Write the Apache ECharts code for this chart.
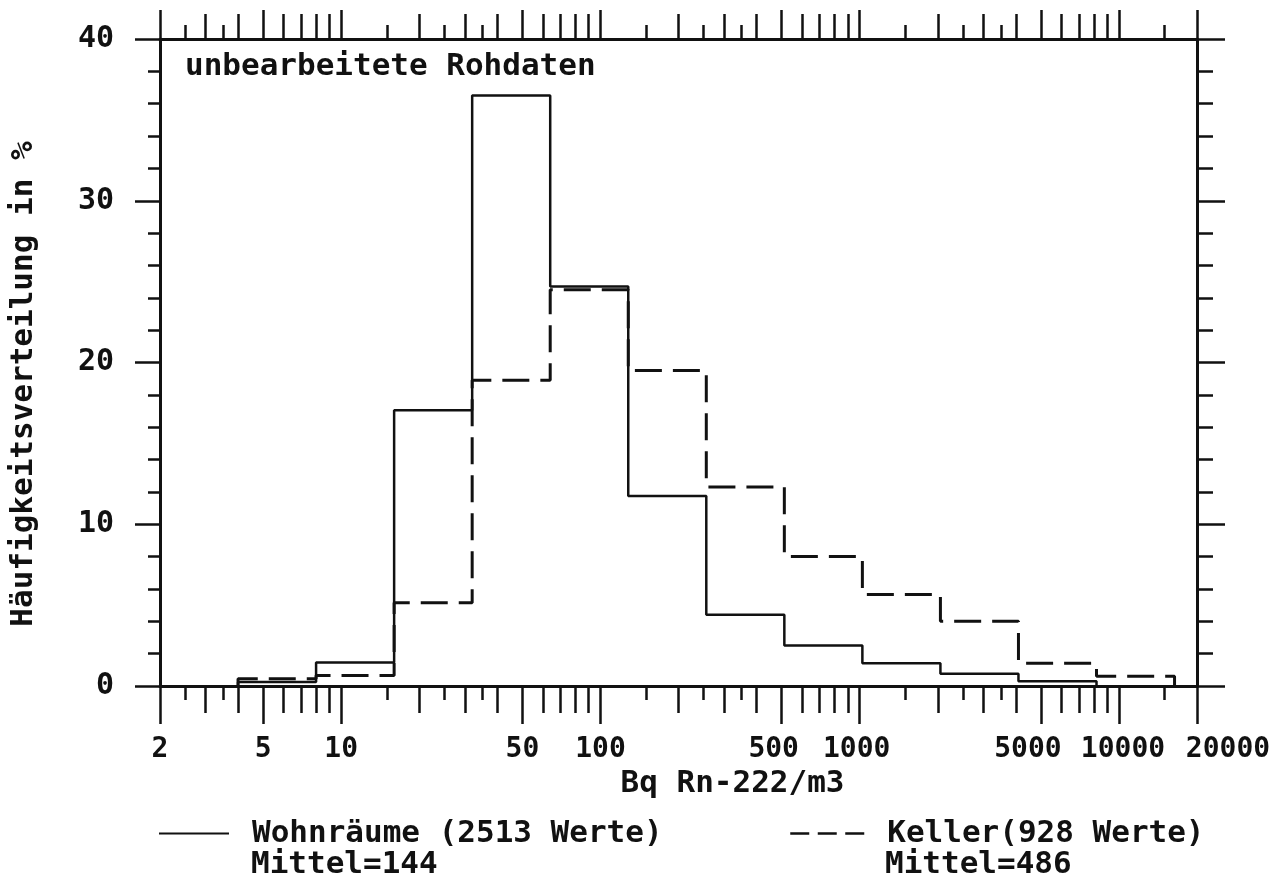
<!DOCTYPE html>
<html>
<head>
<meta charset="utf-8">
<title>Radon Häufigkeitsverteilung</title>
<script src="https://cdn.jsdelivr.net/npm/echarts@6/dist/echarts.min.js"></script>
<style>
  html, body { margin: 0; padding: 0; background: #fff; }
  #chart { width: 1284px; height: 883px; }
</style>
</head>
<body>
<div id="chart"></div>
<script>
// Klassengrenzen (Bq/m3), Klassen verdoppeln sich
const binEdges = [4, 8, 16, 32, 64, 128, 256, 512, 1024, 2048, 4096, 8192, 16384]
// Häufigkeit in % je Klasse
const wohnValues = [0.25, 1.45, 17.05, 36.5, 24.7, 11.75, 4.4, 2.5, 1.4, 0.75, 0.3]
const kellerValues = [0.45, 0.65, 5.15, 18.9, 24.5, 19.5, 12.3, 8.0, 5.65, 4.0, 1.4, 0.6]

const xLabels = [2, 5, 10, 50, 100, 500, 1000, 5000, 10000, 20000]
const longTicks = [2, 5, 10, 50, 100, 500, 1000, 5000, 10000, 20000]
const midTicks = [3, 4, 6, 7, 8, 9, 20, 30, 40, 60, 70, 80, 90, 200, 300, 400, 600, 700, 800, 900,
  2000, 3000, 4000, 6000, 7000, 8000, 9000]
const shortTicks = [2.5, 3.5, 15, 25, 35, 150, 250, 350, 1500, 2500, 3500, 15000]

const FONT = '"DejaVu Sans Mono", "Liberation Mono", monospace'

// Treppenlinie aus Klassengrenzen und Werten
const stepPoints = (edges, vals) => {
  const pts = [[edges[0], 0]]
  vals.forEach((v, i) => {
    pts.push([edges[i], v], [edges[i + 1], v])
  })
  pts.push([edges[vals.length], 0])
  return pts
}

// Beschriftungen wie im Plot leicht seitlich versetzt (px, + = rechts)
const labelShift = { 500: -8, 1000: -3, 5000: -13, 10000: 4, 20000: 31 }
const labelRich = {}
xLabels.forEach((v, i) => {
  const s = labelShift[v] || 0
  labelRich['s' + i] = {
    fontFamily: FONT, fontWeight: 'bold', fontSize: 28, color: '#111',
    padding: s >= 0 ? [0, 0, 0, 2 * s] : [0, -2 * s, 0, 0]
  }
})

// eine Log-Achse je Strichlänge (lang / mittel / kurz), unten und oben
const makeX = (position, ticks, len, withLine, withLabels) => ({
  type: 'log',
  logBase: 10,
  min: 2,
  max: 20000,
  position,
  gridIndex: 0,
  splitLine: { show: false },
  minorTick: { show: false },
  axisLine: { show: withLine, lineStyle: { color: '#111', width: 3 } },
  axisTick: { show: true, customValues: ticks, length: len, lineStyle: { color: '#111', width: 2.5 } },
  axisLabel: withLabels ? {
    show: true,
    customValues: xLabels,
    margin: 50,
    formatter: (val) => {
      const v = Math.round(val)
      const i = xLabels.indexOf(v)
      return '{s' + i + '|' + v + '}'
    },
    rich: labelRich
  } : { show: false }
})

const makeY = (position, len, minorLen, withLabels) => ({
  type: 'value',
  min: 0,
  max: 40,
  interval: 10,
  position,
  splitLine: { show: false },
  minorSplitLine: { show: false },
  axisLine: { show: true, lineStyle: { color: '#111', width: 3 } },
  axisTick: { show: true, length: len, lineStyle: { color: '#111', width: 2.5 } },
  minorTick: { show: true, splitNumber: 5, length: minorLen, lineStyle: { color: '#111', width: 2.5 } },
  axisLabel: withLabels ? {
    show: true, margin: 46, fontFamily: FONT, fontWeight: 'bold', fontSize: 30, color: '#111'
  } : { show: false }
})

const chart = echarts.init(document.getElementById('chart'))

const xBottom = makeX('bottom', longTicks, 38, true, true)
xBottom.name = 'Bq Rn-222/m3'
xBottom.nameLocation = 'middle'
xBottom.nameGap = 68
xBottom.nameTextStyle = {
  fontFamily: FONT, fontWeight: 'bold', fontSize: 31, color: '#111', padding: [0, 0, 0, 108]
}

const legendText = { fontFamily: FONT, fontWeight: 'bold', fontSize: 31, color: '#111', padding: [0, 0, 0, 18] }
const hiddenSymbol = { color: 'transparent', borderColor: 'transparent', borderWidth: 0 }

const option = {
  backgroundColor: '#fff',
  animation: false,
  title: {
    text: 'unbearbeitete Rohdaten',
    left: 180,
    top: 46,
    textStyle: { fontFamily: FONT, fontWeight: 'bold', fontSize: 31, color: '#111' }
  },
  grid: { left: 160, right: 87, top: 39, bottom: 197 },
  xAxis: [
    xBottom,
    makeX('bottom', midTicks, 27, false, false),
    makeX('bottom', shortTicks, 14, false, false),
    makeX('top', longTicks, 29, true, false),
    makeX('top', midTicks, 25, false, false),
    makeX('top', shortTicks, 14, false, false)
  ],
  yAxis: [
    makeY('left', 25, 12, true),
    makeY('right', 28, 16, false)
  ],
  legend: [
    {
      left: 158, top: 818, padding: 0,
      itemWidth: 70, itemHeight: 34,
      itemStyle: hiddenSymbol,
      data: [{ name: 'Wohnräume (2513 Werte)' }],
      textStyle: legendText
    },
    {
      left: 789, top: 818, padding: 0,
      itemWidth: 74, itemHeight: 34,
      itemStyle: hiddenSymbol,
      data: [{ name: 'Keller(928 Werte)', lineStyle: { type: [19, 8.5], width: 2.5 } }],
      textStyle: legendText
    }
  ],
  graphic: [
    {
      type: 'text', x: 24, y: 384, rotation: Math.PI / 2,
      style: {
        text: 'Häufigkeitsverteilung in %', fill: '#111',
        font: 'bold 31px ' + FONT, textAlign: 'center', textVerticalAlign: 'middle'
      }
    },
    {
      type: 'text', x: 251, y: 865,
      style: { text: 'Mittel=144', fill: '#111', font: 'bold 31px ' + FONT, textVerticalAlign: 'middle' }
    },
    {
      type: 'text', x: 885, y: 865,
      style: { text: 'Mittel=486', fill: '#111', font: 'bold 31px ' + FONT, textVerticalAlign: 'middle' }
    }
  ],
  series: [
    {
      name: 'Wohnräume (2513 Werte)',
      type: 'line',
      xAxisIndex: 0,
      yAxisIndex: 0,
      symbol: 'none',
      color: '#111',
      data: stepPoints(binEdges, wohnValues),
      lineStyle: { color: '#111', width: 2.5, type: 'solid' }
    },
    {
      name: 'Keller(928 Werte)',
      type: 'line',
      xAxisIndex: 0,
      yAxisIndex: 0,
      symbol: 'none',
      color: '#111',
      data: stepPoints(binEdges, kellerValues),
      lineStyle: { color: '#111', width: 3, type: [27, 11] }
    }
  ]
}

chart.setOption(option)
window.addEventListener('resize', () => chart.resize())
</script>
</body>
</html>
